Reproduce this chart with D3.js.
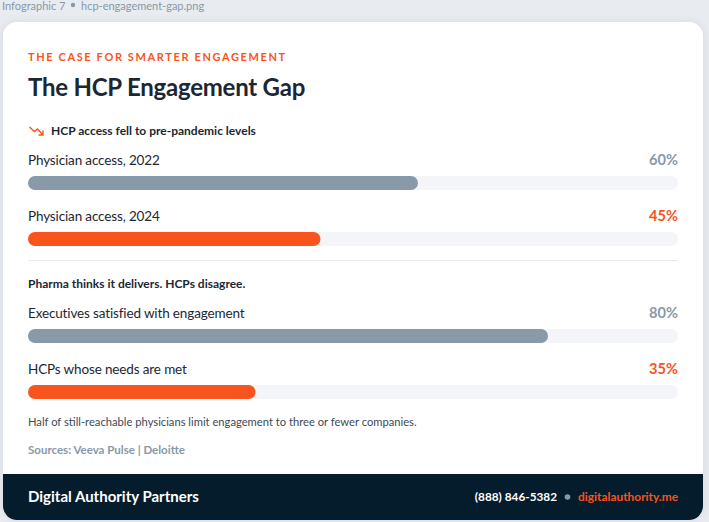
<!DOCTYPE html>
<html>
<head>
<meta charset="utf-8">
<script src="https://cdn.jsdelivr.net/npm/d3@7"></script>
<style>
	html, body { margin: 0; padding: 0; background: #e8ebf0; overflow: hidden; }
	text { font-family: Lato, sans-serif; }
</style>
</head>
<body>
<svg id="chart" width="709" height="522"></svg>
<script>
//	Data

var labels = ["Physician access, 2022", "Physician access, 2024", "Executives satisfied with engagement", "HCPs whose needs are met"];
var values = [60, 45, 80, 35];
var kinds = ["muted", "hot", "muted", "hot"];
var barTops = [176, 232, 329, 385];

var colors = { muted: "#8899a8", hot: "#f9531e" };
var ink = "#1c2733";

var svg = d3.select("#chart");

svg.append("defs").append("clipPath")
	.attr("id", "cardClip")
	.append("rect")
	.attr("x", 3).attr("y", 22)
	.attr("width", 700).attr("height", 498)
	.attr("rx", 14);

//	Page header
addText(2, 9.5, "Infographic 7", 11, 400, "#8899a8");
svg.append("circle").attr("cx", 73).attr("cy", 5).attr("r", 2.2).attr("fill", "#8899a8");
addText(81, 9.5, "hcp-engagement-gap.png", 11, 400, "#8899a8");

//	Card and footer
svg.append("rect")
	.attr("x", 3).attr("y", 22)
	.attr("width", 700).attr("height", 498)
	.attr("rx", 14)
	.attr("fill", "#ffffff")
	.style("filter", "drop-shadow(0 0 4px rgba(5, 28, 44, 0.08))");

svg.append("rect")
	.attr("x", 3).attr("y", 474)
	.attr("width", 700).attr("height", 46)
	.attr("fill", "#051c2c")
	.attr("clip-path", "url(#cardClip)");

addText(28, 61, "THE CASE FOR SMARTER ENGAGEMENT", 11, 700, "#f9531e").attr("letter-spacing", "1.62px");
addText(28, 96, "The HCP Engagement Gap", 24, 700, ink).attr("letter-spacing", "-0.23px");

//	Trend arrow next to first heading
svg.append("path")
	.attr("d", "M29.5 127 L34.5 131.5 L37.5 129 L43 135 M43 130.5 L43 135 L38.5 135")
	.attr("fill", "none")
	.attr("stroke", "#f9531e")
	.attr("stroke-width", 1.4);

addText(51, 135, "HCP access fell to pre-pandemic levels", 12, 700, ink);
addText(28, 288, "Pharma thinks it delivers. HCPs disagree.", 12, 700, ink);

svg.append("line")
	.attr("x1", 28).attr("x2", 678)
	.attr("y1", 260.5).attr("y2", 260.5)
	.attr("stroke", "#e6e9ef");

//	Bars
var xScale = d3.scaleLinear()
	.domain([0, 100])
	.range([28, 678]);

var rows = svg.selectAll("g.row")
	.data(values)
	.enter()
	.append("g")
	.attr("class", "row")
	.attr("transform", function(d, i)
		{
			return "translate(0, " + barTops[i] + ")";
		});

rows.append("rect")
	.attr("x", xScale(0))
	.attr("width", xScale(100) - xScale(0))
	.attr("height", 14)
	.attr("rx", 7)
	.attr("fill", "#f3f5f8");

rows.append("rect")
	.attr("x", xScale(0))
	.attr("width", function(d)
		{
			return xScale(d) - xScale(0);
		})
	.attr("height", 14)
	.attr("rx", 7)
	.attr("fill", function(d, i)
		{
			return colors[kinds[i]];
		});

rows.append("text")
	.attr("x", 28)
	.attr("y", -11)
	.attr("font-size", 13.5)
	.attr("letter-spacing", "-0.14px")
	.attr("fill", ink)
	.text(function(d, i)
		{
			return labels[i];
		});

rows.append("text")
	.attr("x", 678)
	.attr("y", -11)
	.attr("text-anchor", "end")
	.attr("font-size", 14.6)
	.attr("font-weight", 700)
	.attr("fill", function(d, i)
		{
			return colors[kinds[i]];
		})
	.text(function(d)
		{
			return d + "%";
		});

//	Notes
addText(28, 426, "Half of still-reachable physicians limit engagement to three or fewer companies.", 11.2, 400, "#3d4a57");
addText(28, 454, "Sources: Veeva Pulse | Deloitte", 11.5, 700, "#8899a8");

//	Footer text
addText(28, 502, "Digital Authority Partners", 15, 700, "#ffffff");
addText(678, 501, "digitalauthority.me", 11.9, 700, "#f9531e").attr("text-anchor", "end");
svg.append("circle").attr("cx", 567.5).attr("cy", 497).attr("r", 2.8).attr("fill", "#8899a8");
addText(557, 501, "(888) 846-5382", 11.8, 700, "#ffffff").attr("text-anchor", "end");

function addText(x, y, str, size, weight, fill)
{
	return svg.append("text")
		.attr("x", x)
		.attr("y", y)
		.attr("font-size", size)
		.attr("font-weight", weight)
		.attr("fill", fill)
		.text(str);
}
</script>
</body>
</html>
